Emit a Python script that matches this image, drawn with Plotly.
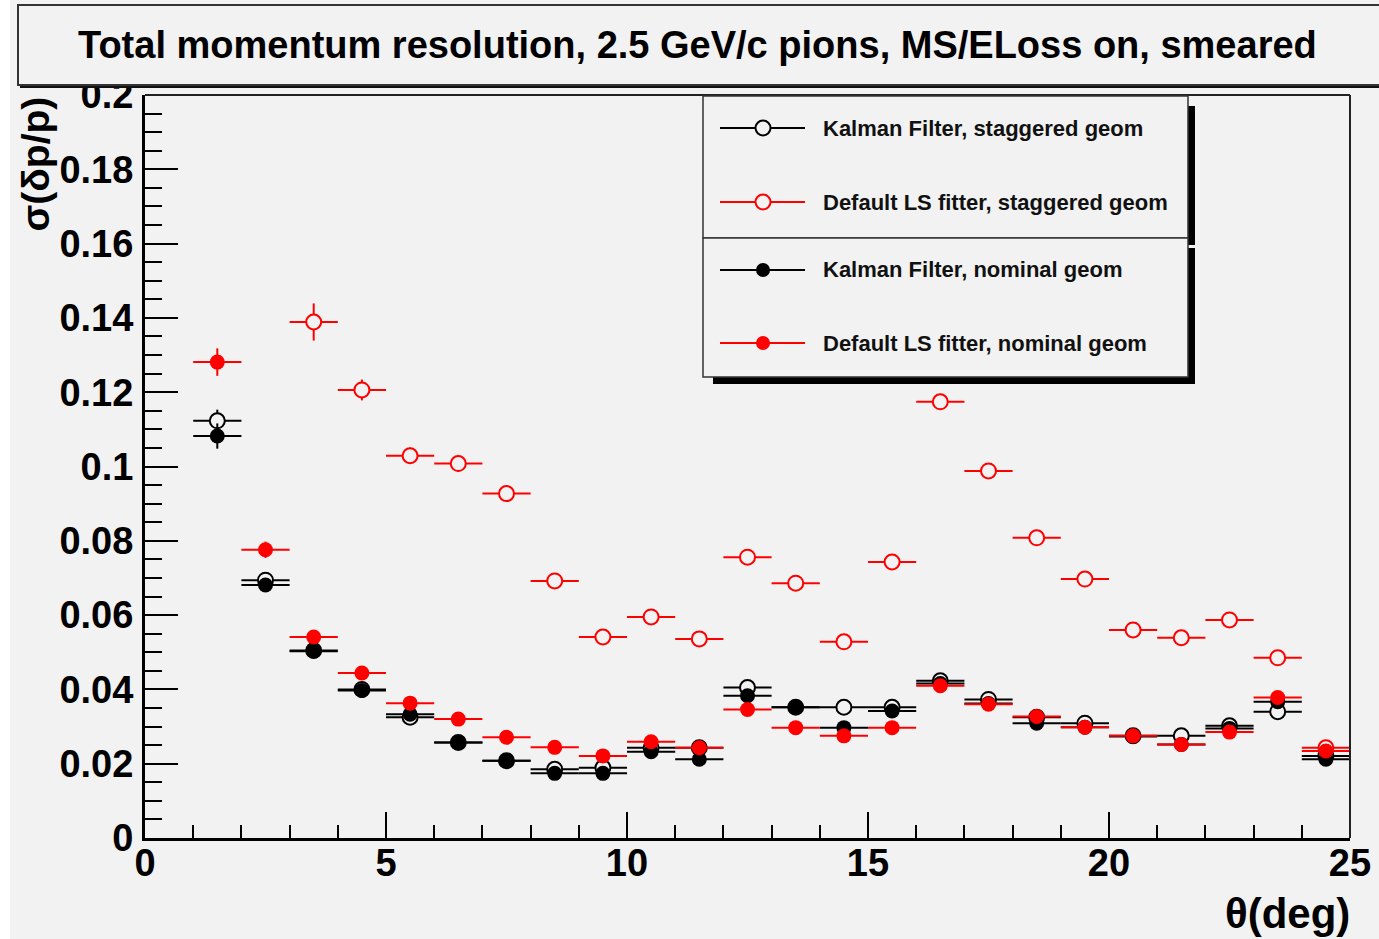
import plotly.graph_objects as go

W, H = 1379, 939

# ---------------- data ----------------
theta = [1.5, 2.5, 3.5, 4.5, 5.5, 6.5, 7.5, 8.5, 9.5, 10.5, 11.5, 12.5,
         13.5, 14.5, 15.5, 16.5, 17.5, 18.5, 19.5, 20.5, 21.5, 22.5, 23.5, 24.5]
theta_halfwidth = [0.5] * len(theta)

kf_staggered = [0.1123, 0.0694, 0.0505, 0.0400, 0.0325, 0.0257, 0.0208, 0.0185,
                0.0189, 0.0243, 0.0243, 0.0405, 0.0352, 0.0352, 0.0352, 0.0423,
                0.0373, 0.0325, 0.0309, 0.0275, 0.0275, 0.0302, 0.0340, 0.0221]
kf_staggered_err = [0.0030, 0.0018, 0.0014, 0.0012, 0.0010, 0.0008, 0.0007, 0.0006,
                    0.0006, 0.0008, 0.0008, 0.0013, 0.0011, 0.0011, 0.0011, 0.0013,
                    0.0012, 0.0010, 0.0010, 0.0009, 0.0009, 0.0010, 0.0011, 0.0007]

ls_staggered = [None, None, 0.1389, 0.1206, 0.1029, 0.1008, 0.0927, 0.0692,
                0.0541, 0.0595, 0.0536, 0.0756, 0.0686, 0.0528, 0.0743, 0.1174,
                0.0988, 0.0808, 0.0697, 0.0560, 0.0539, 0.0587, 0.0485, 0.0243]
ls_staggered_err = [0, 0, 0.0050, 0.0028, 0.0022, 0.0022, 0.0020, 0.0018,
                    0.0015, 0.0016, 0.0015, 0.0018, 0.0018, 0.0015, 0.0018, 0.0020,
                    0.0020, 0.0018, 0.0018, 0.0015, 0.0015, 0.0016, 0.0014, 0.0008]

kf_nominal = [0.1082, 0.0681, 0.0503, 0.0397, 0.0333, 0.0257, 0.0208, 0.0174,
              0.0174, 0.0232, 0.0212, 0.0383, 0.0352, 0.0297, 0.0342, 0.0416,
              0.0362, 0.0309, 0.0298, 0.0273, 0.0252, 0.0295, 0.0367, 0.0212]
kf_nominal_err = [0.0034, 0.0018, 0.0014, 0.0012, 0.0010, 0.0008, 0.0007, 0.0006,
                  0.0006, 0.0008, 0.0007, 0.0012, 0.0011, 0.0010, 0.0011, 0.0013,
                  0.0012, 0.0010, 0.0010, 0.0009, 0.0008, 0.0010, 0.0011, 0.0007]

ls_nominal = [0.1281, 0.0776, 0.0541, 0.0444, 0.0363, 0.0320, 0.0271, 0.0244,
              0.0221, 0.0259, 0.0243, 0.0346, 0.0297, 0.0275, 0.0297, 0.0410,
              0.0360, 0.0327, 0.0298, 0.0275, 0.0252, 0.0285, 0.0378, 0.0234]
ls_nominal_err = [0.0037, 0.0022, 0.0016, 0.0013, 0.0011, 0.0010, 0.0008, 0.0008,
                  0.0007, 0.0008, 0.0008, 0.0011, 0.0009, 0.0009, 0.0009, 0.0013,
                  0.0011, 0.0010, 0.0009, 0.0009, 0.0008, 0.0009, 0.0012, 0.0007]

series_names = ["Kalman Filter, staggered geom", "Default LS fitter, staggered geom",
                "Kalman Filter, nominal geom", "Default LS fitter, nominal geom"]

y_tickvals = [0, 0.02, 0.04, 0.06, 0.08, 0.1, 0.12, 0.14, 0.16, 0.18, 0.2]
y_ticktext = ["0", "0.02", "0.04", "0.06", "0.08", "0.1", "0.12", "0.14", "0.16", "0.18", "0.2"]
x_tickvals = [0, 5, 10, 15, 20, 25]
x_ticktext = ["0", "5", "10", "15", "20", "25"]

title_text = "Total momentum resolution, 2.5 GeV/c pions, MS/ELoss on, smeared"
x_title = "θ(deg)"
y_title = "σ(δp/p)"

# ---------------- style ----------------
BG = "#f2f2f2"
RED = "#ff0000"
BLK = "#000000"
FONT = "Liberation Sans, Arial, sans-serif"

# plot area in pixels
PX0, PX1, PY0, PY1 = 145, 1350, 95, 838


def fx(px):
    return px / W


def fy(py):
    return 1 - py / H


fig = go.Figure()


def add_series(y, err, color, filled, name):
    marker = dict(symbol="circle",
                  size=15 if filled else 15,
                  color=color if filled else BG,
                  line=dict(color=color, width=0 if filled else 2))
    fig.add_trace(go.Scatter(
        x=theta, y=y, mode="markers", name=name, showlegend=False,
        marker=marker,
        error_x=dict(type="data", array=theta_halfwidth, width=0, thickness=2, color=color),
        error_y=dict(type="data", array=err, width=0, thickness=2, color=color)))


add_series(kf_staggered, kf_staggered_err, BLK, False, series_names[0])
add_series(ls_staggered, ls_staggered_err, RED, False, series_names[1])
add_series(kf_nominal, kf_nominal_err, BLK, True, series_names[2])
add_series(ls_nominal, ls_nominal_err, RED, True, series_names[3])

shapes = []
annotations = []


def rect(x0, y0, x1, y1, fill=None, line_color=None, lw=0):
    shapes.append(dict(type="rect", xref="paper", yref="paper",
                       x0=fx(x0), y0=fy(y0), x1=fx(x1), y1=fy(y1),
                       fillcolor=fill if fill else "rgba(0,0,0,0)",
                       line=dict(color=line_color if line_color else "rgba(0,0,0,0)", width=lw),
                       layer="above"))


def line(x0, y0, x1, y1, color, lw):
    shapes.append(dict(type="line", xref="paper", yref="paper",
                       x0=fx(x0), y0=fy(y0), x1=fx(x1), y1=fy(y1),
                       line=dict(color=color, width=lw), layer="above"))


def dot(cx, cy, r, fill, line_color, lw):
    shapes.append(dict(type="circle", xref="paper", yref="paper",
                       xsizemode="pixel", ysizemode="pixel",
                       xanchor=fx(cx), yanchor=fy(cy),
                       x0=-r, x1=r, y0=-r, y1=r,
                       fillcolor=fill,
                       line=dict(color=line_color, width=lw), layer="above"))


# white strip on the far left
rect(0, 0, 10, H, fill="white")

# frame top / right
line(PX0, PY0, PX1, PY0, "#222222", 2)
line(PX1, PY0, PX1, PY1, "#222222", 2)

# title box with shadow
rect(20, 84, W + 5, 88, fill="#111111")
rect(18, 5, W + 5, 85, fill=BG, line_color="#333333", lw=2)
annotations.append(dict(xref="paper", yref="paper", x=fx(698), y=fy(45),
                        text="<b>" + title_text + "</b>",
                        showarrow=False, xanchor="center", yanchor="middle",
                        font=dict(family=FONT, size=38, color="black")))

# legend boxes with shadows
LX0, LX1 = 703, 1188
boxes = [(96, 238), (238, 377)]
for (b0, b1) in boxes:
    rect(LX0 + 10, b0 + 10, LX1 + 7, b1 + 7, fill="black")
for (b0, b1) in boxes:
    rect(LX0, b0, LX1, b1, fill=BG, line_color="#333333", lw=1.5)

row_y = [128, 202, 270, 343]
colors = [BLK, RED, BLK, RED]
filled = [False, False, True, True]
for i in range(4):
    line(720, row_y[i], 805, row_y[i], colors[i], 2)
    if filled[i]:
        dot(763, row_y[i], 7, colors[i], colors[i], 0)
    else:
        dot(763, row_y[i], 7.5, BG, colors[i], 2)
    annotations.append(dict(xref="paper", yref="paper", x=fx(821), y=fy(row_y[i]),
                            text="<b>" + series_names[i] + "</b>", showarrow=False,
                            xanchor="left", yanchor="middle",
                            font=dict(family=FONT, size=22, color="#111111")))

# axis titles
annotations.append(dict(xref="paper", yref="paper", x=fx(1352), y=fy(913),
                        text="<b>" + x_title + "</b>",
                        showarrow=False, xanchor="right", yanchor="middle",
                        font=dict(family=FONT, size=42, color="black")))
annotations.append(dict(xref="paper", yref="paper", x=fx(35), y=fy(95),
                        text="<b>" + y_title + "</b>",
                        showarrow=False, xanchor="center", yanchor="top", textangle=-90,
                        font=dict(family=FONT, size=39, color="black")))

fig.update_layout(
    width=W, height=H,
    margin=dict(l=0, r=0, t=0, b=0, pad=0),
    paper_bgcolor=BG, plot_bgcolor=BG,
    showlegend=False,
    shapes=shapes, annotations=annotations,
    xaxis=dict(domain=[PX0 / W, PX1 / W], range=[0, 25], automargin=False,
               tickvals=x_tickvals, ticktext=x_ticktext,
               ticks="inside", ticklen=26, tickwidth=2, tickcolor="black",
               minor=dict(dtick=1, tick0=0, ticks="inside", ticklen=13, tickwidth=2, tickcolor="black"),
               showline=True, linewidth=3, linecolor="black", mirror=False,
               showgrid=False, zeroline=False,
               tickfont=dict(family=FONT, size=38, color="black", weight="bold"),
               ticklabelstandoff=-11),
    yaxis=dict(domain=[1 - PY1 / H, 1 - PY0 / H], range=[0, 0.2], automargin=False,
               tickvals=y_tickvals, ticktext=y_ticktext,
               ticks="inside", ticklen=33, tickwidth=2, tickcolor="black",
               minor=dict(dtick=0.005, tick0=0, ticks="inside", ticklen=17, tickwidth=2, tickcolor="black"),
               showline=True, linewidth=3, linecolor="black", mirror=False,
               showgrid=False, zeroline=False,
               tickfont=dict(family=FONT, size=38, color="black", weight="bold"),
               ticklabelstandoff=1),
)

fig.write_html("out.html")
